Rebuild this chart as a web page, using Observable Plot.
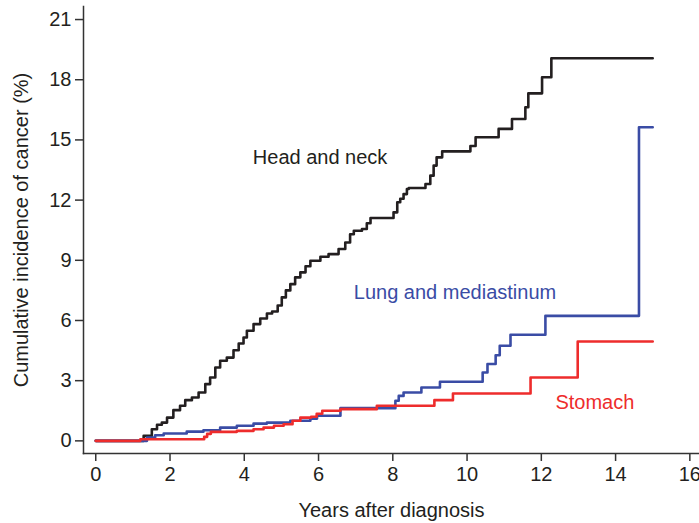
<!DOCTYPE html>
<html>
<head>
<meta charset="utf-8">
<script src="https://cdn.jsdelivr.net/npm/d3@7"></script>
<script src="https://cdn.jsdelivr.net/npm/@observablehq/plot@0.6"></script>
<style>
  html, body { margin: 0; padding: 0; background: #fff; }
  #chart { width: 699px; height: 523px; }
</style>
</head>
<body>
<div id="chart"></div>
<script>
// Series data (years after diagnosis, cumulative incidence %)
const headNeckYears = [0, 1.06, 1.29, 1.51, 1.65, 1.78, 1.92, 2.09, 2.27, 2.41, 2.59, 2.77, 2.95, 3.08, 3.22, 3.35, 3.53, 3.71, 3.85, 3.98, 4.07, 4.25, 4.43, 4.61, 4.75, 4.90, 5.01, 5.12, 5.24, 5.37, 5.51, 5.65, 5.78, 6.05, 6.27, 6.54, 6.72, 6.85, 6.95, 7.17, 7.30, 7.40, 8.02, 8.12, 8.20, 8.29, 8.38, 8.43, 8.88, 9.01, 9.10, 9.18, 9.33, 10.09, 10.23, 10.85, 11.21, 11.57, 11.65, 12.02, 12.27, 15.0];
const headNeckValues = [0, 0, 0.25, 0.58, 0.80, 0.91, 1.16, 1.53, 1.75, 2.03, 2.16, 2.41, 2.83, 3.16, 3.66, 3.99, 4.15, 4.52, 4.85, 5.15, 5.49, 5.82, 6.10, 6.35, 6.45, 6.75, 7.15, 7.50, 7.81, 8.15, 8.40, 8.70, 8.98, 9.18, 9.31, 9.56, 9.89, 10.30, 10.47, 10.56, 10.85, 11.11, 11.39, 11.89, 12.07, 12.30, 12.55, 12.60, 12.80, 13.22, 13.72, 14.13, 14.43, 14.70, 15.13, 15.55, 16.04, 16.63, 17.32, 18.12, 19.07, 19.07];

const lungYears = [0, 1.06, 1.38, 1.60, 1.83, 2.45, 2.90, 3.35, 3.80, 4.25, 4.61, 5.24, 5.78, 5.96, 6.59, 8.07, 8.16, 8.29, 8.77, 9.27, 10.42, 10.55, 10.77, 10.88, 11.17, 12.11, 14.63, 15.0];
const lungValues = [0, 0, 0.17, 0.28, 0.37, 0.46, 0.53, 0.66, 0.75, 0.86, 0.91, 1.00, 1.11, 1.25, 1.63, 2.00, 2.24, 2.41, 2.66, 2.95, 3.41, 3.83, 4.27, 4.74, 5.29, 6.23, 15.63, 15.63];

const stomachYears = [0, 1.06, 1.20, 2.92, 3.00, 3.10, 3.80, 4.25, 4.52, 4.80, 5.06, 5.30, 5.51, 5.80, 5.95, 6.10, 6.59, 7.57, 9.12, 9.62, 11.71, 12.98, 15.0];
const stomachValues = [0, 0, 0.08, 0.20, 0.35, 0.45, 0.50, 0.58, 0.66, 0.75, 0.83, 1.00, 1.16, 1.20, 1.35, 1.50, 1.58, 1.75, 2.03, 2.36, 3.16, 4.95, 4.95];

const seriesNames = ["Head and neck", "Lung and mediastinum", "Stomach"];
const xTicks = [0, 2, 4, 6, 8, 10, 12, 14, 16];
const yTicks = [0, 3, 6, 9, 12, 15, 18, 21];

const colors = { "Head and neck": "#231f20", "Lung and mediastinum": "#3a4ca5", "Stomach": "#ee2c2c" };

const rows = [];
[[headNeckYears, headNeckValues], [lungYears, lungValues], [stomachYears, stomachValues]].forEach(([xs, ys], i) => {
  xs.forEach((x, j) => rows.push({ series: seriesNames[i], year: x, value: ys[j] }));
});

const font = "'Liberation Sans', Arial, Helvetica, sans-serif";
const textColor = "#231f20";

const chart = Plot.plot({
  width: 699,
  height: 523,
  marginLeft: 83,
  marginRight: 0,
  marginTop: 6,
  marginBottom: 70,
  style: { fontFamily: font, fontSize: "20px", color: textColor, background: "#fff", overflow: "visible" },
  x: { domain: [-0.33, 16.26] },
  y: { domain: [-0.63, 21.65] },
  color: { domain: seriesNames, range: seriesNames.map(s => colors[s]) },
  marks: [
    Plot.frame({ anchor: "left", stroke: "#333", strokeWidth: 1.5 }),
    Plot.frame({ anchor: "bottom", stroke: "#333", strokeWidth: 1.5 }),
    Plot.axisX({ ticks: xTicks, tickSize: 8, tickPadding: 5, fontSize: 20, label: null, stroke: "#333", strokeWidth: 1.5, tickFormat: d => String(d) }),
    Plot.axisY({ ticks: yTicks, tickSize: 8, tickPadding: 4, fontSize: 20, label: null, stroke: "#333", strokeWidth: 1.5, tickFormat: d => String(d) }),
    Plot.line(rows, { x: "year", y: "value", z: "series", stroke: "series", curve: "step-after", strokeWidth: 2.6 }),
    Plot.text([seriesNames[0]], { x: 4.23, y: 14.1, text: d => d, fill: colors[seriesNames[0]], textAnchor: "start", lineAnchor: "middle", fontSize: 20 }),
    Plot.text([seriesNames[1]], { x: 6.95, y: 7.37, text: d => d, fill: colors[seriesNames[1]], textAnchor: "start", lineAnchor: "middle", fontSize: 20 }),
    Plot.text([seriesNames[2]], { x: 12.38, y: 1.91, text: d => d, fill: colors[seriesNames[2]], textAnchor: "start", lineAnchor: "middle", fontSize: 20 }),
    Plot.text(["Cumulative incidence of cancer (%)"], { frameAnchor: "left", text: d => d, rotate: -90, dx: -62, textAnchor: "middle", lineAnchor: "middle", fontSize: 20, fill: textColor }),
    Plot.text(["Years after diagnosis"], { frameAnchor: "bottom", text: d => d, dy: 57, textAnchor: "middle", lineAnchor: "middle", fontSize: 20, fill: textColor })
  ]
});
document.getElementById("chart").appendChild(chart);
</script>
</body>
</html>
